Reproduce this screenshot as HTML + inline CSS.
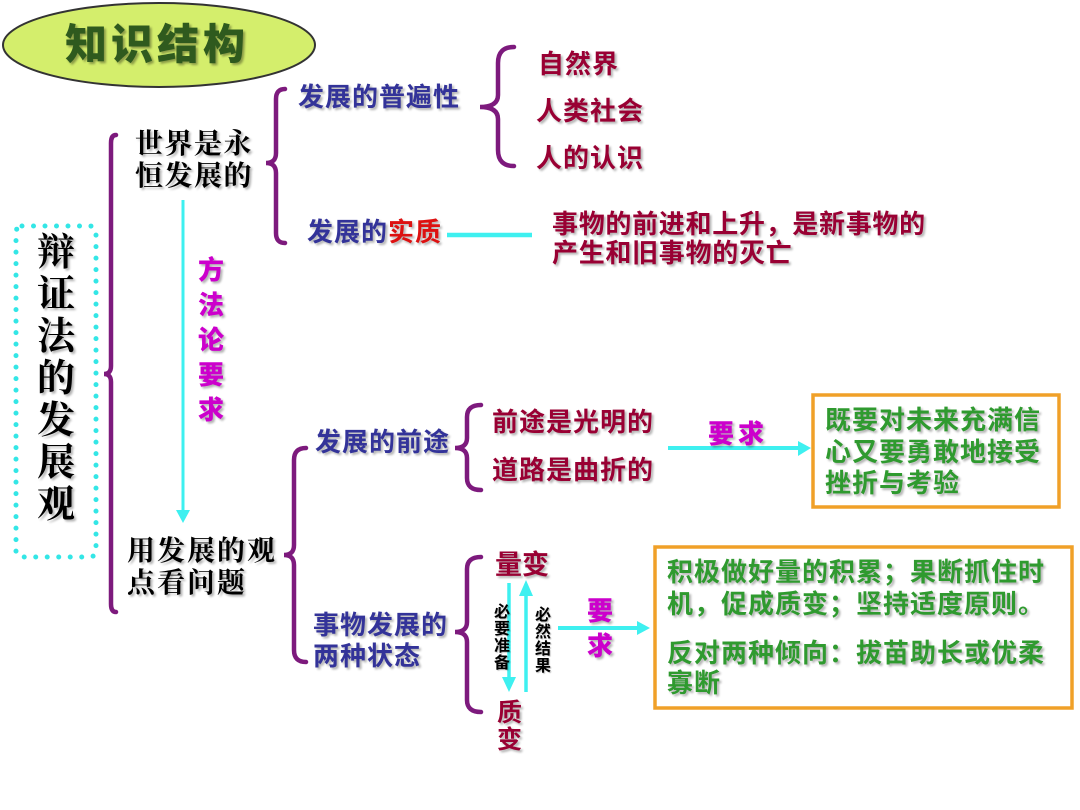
<!DOCTYPE html>
<html>
<head>
<meta charset="utf-8">
<style>
  html,body{margin:0;padding:0;background:#fff;}
  #c{position:relative;width:1080px;height:810px;overflow:hidden;background:#fff;}
  svg{position:absolute;left:0;top:0;}
  .t{position:absolute;white-space:nowrap;font-family:"Liberation Sans","Noto Sans CJK SC",sans-serif;font-weight:bold;text-shadow:2px 2px 2px rgba(0,0,0,0.3);}
  .s{font-family:"Liberation Serif","Noto Serif CJK SC",serif;font-weight:bold;color:#000;}
  .navy{color:#333399;}
  .red{color:#990033;}
  .grn{color:#2f9a2f;}
  .mag{color:#cc00cc;}
  .v{text-align:center;}
</style>
</head>
<body>
<div id="c">
<svg width="1080" height="810" viewBox="0 0 1080 810">
  <!-- title ellipse -->
  <ellipse cx="159" cy="45" rx="156" ry="42" fill="#d4ee6c" stroke="#333" stroke-width="2"/>
  <!-- dotted box -->
  <rect x="16" y="226" width="80" height="331" rx="6" fill="none" stroke="#33e6e6" stroke-width="5" stroke-linecap="round" stroke-dasharray="0 11.5"/>
  <g fill="none" stroke="#7d1a7d" stroke-width="4.5" stroke-linecap="round">
    <!-- brace 1 -->
    <path d="M116,135 Q111,135 111,143 L111,366 Q111,374 104,374 Q111,374 111,382 L111,604 Q111,612 116,612"/>
    <!-- brace 2 -->
    <path d="M285,89 Q276,89 276,99 L276,153 Q276,163 266,163 Q276,163 276,173 L276,233 Q276,243 285,243"/>
    <!-- brace 3 -->
    <path d="M514,47 Q498,47 498,63 L498,95 Q498,107 480,107 Q498,107 498,119 L498,150 Q498,166 514,166"/>
    <!-- brace 4 -->
    <path d="M306,448 Q294,448 294,460 L294,545 Q294,555 284,555 Q294,555 294,565 L294,650 Q294,662 306,662"/>
    <!-- brace 5 -->
    <path d="M481,405 Q467,405 467,417 L467,438 Q467,448 455,448 Q467,448 467,458 L467,478 Q467,490 481,490"/>
    <!-- brace 6 -->
    <path d="M481,557 Q467,557 467,569 L467,622 Q467,632 455,632 Q467,632 467,642 L467,700 Q467,712 481,712"/>
  </g>
  <g stroke="#3ef0f0" fill="#3ef0f0">
    <line x1="183" y1="200" x2="183" y2="512" stroke-width="3"/>
    <polygon points="176,510 190,510 183,523" stroke="none"/>
    <line x1="447" y1="235" x2="532" y2="235" stroke-width="4.5"/>
    <line x1="668" y1="448" x2="800" y2="448" stroke-width="4"/>
    <polygon points="798,441 798,456 811,448" stroke="none"/>
    <line x1="509" y1="583" x2="509" y2="679" stroke-width="3.5"/>
    <polygon points="502,677 516,677 509,692" stroke="none"/>
    <line x1="526" y1="692" x2="526" y2="594" stroke-width="3.5"/>
    <polygon points="519,596 533,596 526,580" stroke="none"/>
    <line x1="558" y1="628" x2="639" y2="628" stroke-width="4"/>
    <polygon points="637,621 637,635 650,628" stroke="none"/>
  </g>
  <!-- orange boxes -->
  <rect x="813" y="395" width="246" height="112" fill="none" stroke="#f0a028" stroke-width="3.5"/>
  <rect x="655" y="547" width="417" height="161" fill="none" stroke="#f0a028" stroke-width="3.5"/>
</svg>

<!-- title -->
<div class="t" style="left:65px;top:22px;font-size:42px;line-height:46px;letter-spacing:4px;color:#2f5a1e;font-weight:900;text-shadow:2px 2px 2px rgba(0,0,0,0.35);">知识结构</div>

<!-- left vertical title -->
<div class="t s v" style="left:36px;top:232px;width:40px;font-size:38px;line-height:42px;">辩<br>证<br>法<br>的<br>发<br>展<br>观</div>

<!-- 世界是永恒发展的 -->
<div class="t s" style="left:135px;top:129px;font-size:28px;line-height:32px;letter-spacing:1.5px;">世界是永<br>恒发展的</div>

<!-- 方法论要求 -->
<div class="t mag v" style="left:196px;top:253px;width:30px;font-size:26px;line-height:35px;font-weight:900;">方<br>法<br>论<br>要<br>求</div>

<!-- 用发展的观点看问题 -->
<div class="t s" style="left:127px;top:536px;font-size:28px;line-height:32px;letter-spacing:2px;">用发展的观<br>点看问题</div>

<!-- top branch -->
<div class="t navy" style="left:298px;top:83px;font-size:26px;line-height:28px;letter-spacing:1px;">发展的普遍性</div>
<div class="t red" style="left:538px;top:50px;font-size:26px;line-height:28px;letter-spacing:1px;">自然界</div>
<div class="t red" style="left:536px;top:97px;font-size:26px;line-height:28px;letter-spacing:1px;">人类社会</div>
<div class="t red" style="left:536px;top:144px;font-size:26px;line-height:28px;letter-spacing:1px;">人的认识</div>
<div class="t navy" style="left:307px;top:218px;font-size:26px;line-height:28px;letter-spacing:1px;">发展的<span style="color:#dd1111;">实质</span></div>
<div class="t red" style="left:552px;top:210px;font-size:26px;line-height:29px;letter-spacing:0.7px;">事物的前进和上升，是新事物的<br>产生和旧事物的灭亡</div>

<!-- 发展的前途 -->
<div class="t navy" style="left:315px;top:428px;font-size:26px;line-height:28px;letter-spacing:1px;">发展的前途</div>
<div class="t red" style="left:492px;top:408px;font-size:26px;line-height:28px;letter-spacing:1px;">前途是光明的</div>
<div class="t red" style="left:492px;top:456px;font-size:26px;line-height:28px;letter-spacing:1px;">道路是曲折的</div>
<div class="t mag" style="left:708px;top:420px;font-size:26px;line-height:28px;letter-spacing:4px;font-weight:900;">要求</div>
<div class="t grn" style="left:825px;top:405px;font-size:26px;line-height:31.5px;letter-spacing:1px;">既要对未来充满信<br>心又要勇敢地接受<br>挫折与考验</div>

<!-- 两种状态 -->
<div class="t navy" style="left:313px;top:610px;font-size:26px;line-height:31px;letter-spacing:1px;">事物发展的<br>两种状态</div>
<div class="t red" style="left:495px;top:551px;font-size:27px;line-height:28px;">量变</div>
<div class="t red v" style="left:496px;top:700px;width:27px;font-size:25px;line-height:27px;">质<br>变</div>
<div class="t v" style="left:493px;top:604px;width:18px;font-size:16px;line-height:17px;color:#000;text-shadow:1px 1px 1px rgba(0,0,0,0.25);">必<br>要<br>准<br>备</div>
<div class="t v" style="left:534px;top:607px;width:18px;font-size:16px;line-height:17px;color:#000;text-shadow:1px 1px 1px rgba(0,0,0,0.25);">必<br>然<br>结<br>果</div>
<div class="t mag v" style="left:586px;top:594px;width:28px;font-size:26px;line-height:35px;font-weight:900;">要<br>求</div>
<div class="t grn" style="left:667px;top:556px;font-size:26px;line-height:32px;letter-spacing:1px;">积极做好量的积累；果断抓住时<br>机，促成质变；坚持适度原则。</div>
<div class="t grn" style="left:667px;top:638px;font-size:26px;line-height:30px;letter-spacing:1px;">反对两种倾向：拔苗助长或优柔<br>寡断</div>
</div>
</body>
</html>
